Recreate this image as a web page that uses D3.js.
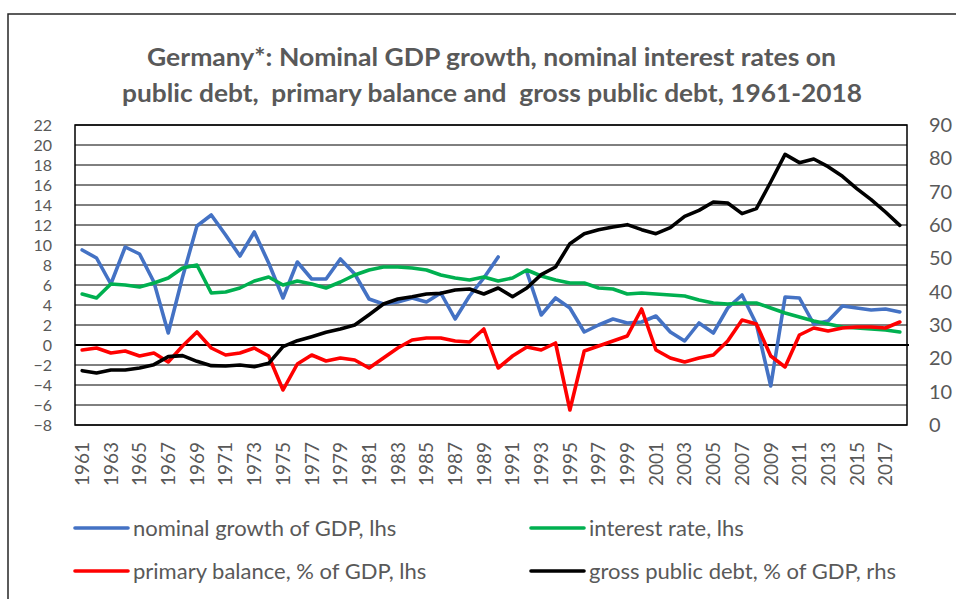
<!DOCTYPE html>
<html>
<head>
<meta charset="utf-8">
<script src="https://cdn.jsdelivr.net/npm/d3@7"></script>
<style>
  body { margin: 0; background: #fff; }
  svg { display: block; }
  text { font-family: Lato, "Open Sans", "Liberation Sans", sans-serif; fill: #595959; }
</style>
</head>
<body>
<svg id="chart" width="956" height="599"></svg>
<script>
const years = d3.range(1961, 2019);
const growth = [9.5, 8.7, 6.1, 9.8, 9.1, 6.3, 1.2, 6.8, 11.9, 13.0,
  11.0, 8.9, 11.3, 8.2, 4.7, 8.3, 6.6, 6.6, 8.6, 7.1,
  4.6, 4.1, 4.3, 4.7, 4.3, 5.2, 2.6, 4.9, 6.7, 8.8,
  null, 7.3, 3.0, 4.7, 3.7, 1.3, 2.0, 2.6, 2.2, 2.3,
  2.9, 1.3, 0.4, 2.2, 1.2, 3.7, 5.0, 2.1, -4.1, 4.8,
  4.7, 2.1, 2.4, 3.9, 3.7, 3.5, 3.6, 3.3];
const interest = [5.1, 4.7, 6.1, 6.0, 5.8, 6.2, 6.7, 7.7, 8.0, 5.2,
  5.3, 5.7, 6.4, 6.8, 6.0, 6.4, 6.1, 5.7, 6.3, 7.0,
  7.5, 7.8, 7.8, 7.7, 7.5, 7.0, 6.7, 6.5, 6.8, 6.4,
  6.7, 7.5, 6.9, 6.5, 6.2, 6.2, 5.7, 5.6, 5.1, 5.2,
  5.1, 5.0, 4.9, 4.5, 4.2, 4.1, 4.2, 4.2, 3.7, 3.2,
  2.8, 2.4, 2.1, 1.8, 1.7, 1.6, 1.5, 1.3];
const primary = [-0.5, -0.3, -0.8, -0.6, -1.1, -0.8, -1.7, -0.1, 1.3, -0.3,
  -1.0, -0.8, -0.3, -1.1, -4.5, -1.9, -1.0, -1.6, -1.3, -1.5,
  -2.3, -1.3, -0.3, 0.5, 0.7, 0.7, 0.4, 0.3, 1.6, -2.3,
  -1.1, -0.2, -0.5, 0.2, -6.5, -0.6, -0.1, 0.4, 0.9, 3.6,
  -0.5, -1.3, -1.7, -1.3, -1.0, 0.4, 2.5, 2.1, -1.1, -2.2,
  1.0, 1.7, 1.4, 1.7, 1.8, 1.8, 1.7, 2.3];
const debt = [16.3, 15.6, 16.5, 16.5, 17.1, 18.1, 20.5, 20.8, 19.1, 17.8,
  17.7, 18.0, 17.5, 18.5, 23.5, 25.3, 26.5, 27.8, 28.8, 30.0,
  33.1, 36.3, 37.8, 38.5, 39.3, 39.5, 40.5, 40.8, 39.3, 41.1,
  38.5, 41.1, 45.1, 47.4, 54.4, 57.4, 58.6, 59.4, 60.1, 58.6,
  57.4, 59.2, 62.6, 64.4, 66.9, 66.6, 63.4, 64.9, 72.9, 81.2,
  78.7, 79.8, 77.5, 74.6, 70.9, 67.6, 63.9, 59.9];
const leftTicks = d3.range(-8, 23, 2);
const rightTicks = d3.range(0, 91, 10);
const titleLines = ["Germany*: Nominal GDP growth, nominal interest rates on",
                    "public debt,  primary balance and  gross public debt, 1961-2018"];
const seriesNames = ["nominal growth of GDP, lhs", "interest rate, lhs",
                     "primary balance, % of GDP, lhs", "gross public debt, % of GDP, rhs"];
const seriesColors = ["#4472C4", "#00B050", "#FF0000", "#000000"];

const svg = d3.select("#chart");
const L = 75, R = 907, T = 125, B = 425;

// outer frame
svg.append("path").attr("d", `M8,599 V14 H956`).attr("fill", "none")
  .attr("stroke", "#262626").attr("stroke-width", 1.5);

// title
const titleX = [147, 122], titleY = [66, 102], titleW = [689, 740];
svg.selectAll("text.title").data(titleLines).join("text")
  .attr("class", "title")
  .attr("x", (d, i) => titleX[i]).attr("y", (d, i) => titleY[i])
  .attr("textLength", (d, i) => titleW[i]).attr("lengthAdjust", "spacingAndGlyphs")
  .style("white-space", "pre")
  .style("font-size", "24px").style("font-weight", "bold").text(d => d);

const x = d3.scaleBand().domain(years).range([L, R]);
const xc = d => x(d) + x.bandwidth() / 2;
const yL = d3.scaleLinear().domain([-8, 22]).range([B, T]);
const yR = d3.scaleLinear().domain([0, 90]).range([B, T]);

// gridlines
svg.append("g").selectAll("line").data(leftTicks).join("line")
  .attr("x1", L).attr("x2", R).attr("y1", d => yL(d)).attr("y2", d => yL(d))
  .attr("stroke", "#000").attr("stroke-width", 1);

// plot border
svg.append("rect").attr("x", L).attr("y", T).attr("width", R - L).attr("height", B - T)
  .attr("fill", "none").attr("stroke", "#000").attr("stroke-width", 1.5);

// zero line
svg.append("line").attr("x1", L).attr("x2", R + 2).attr("y1", yL(0)).attr("y2", yL(0))
  .attr("stroke", "#000").attr("stroke-width", 2.2);

// left axis
const axL = svg.append("g").attr("transform", `translate(${L},0)`)
  .call(d3.axisLeft(yL).tickValues(leftTicks).tickSize(0).tickPadding(23));
axL.select(".domain").remove();
axL.selectAll("text").style("font-size", "16px").style("font-family", "Lato, sans-serif").attr("fill", "#595959");

// right axis
const axR = svg.append("g").attr("transform", `translate(${R},0)`)
  .call(d3.axisRight(yR).tickValues(rightTicks).tickSize(0).tickPadding(22));
axR.select(".domain").remove();
axR.selectAll("text").style("font-size", "20px").style("font-family", "Lato, sans-serif").attr("fill", "#595959");

// x axis labels
const axB = svg.append("g").attr("transform", `translate(0,${B})`)
  .call(d3.axisBottom(x).tickValues(years.filter(y => (y - 1961) % 2 === 0)).tickSize(0).tickPadding(0));
axB.select(".domain").remove();
axB.selectAll("text")
  .style("font-size", "19px").style("font-family", "Lato, sans-serif").attr("fill", "#595959")
  .attr("text-anchor", "end")
  .attr("transform", "rotate(-90)")
  .attr("x", -17).attr("y", 0).attr("dy", "0.36em");

// lines
const lineL = d3.line().defined(d => d.v !== null).x(d => xc(d.year)).y(d => yL(d.v));
const lineR = d3.line().x(d => xc(d.year)).y(d => yR(d.v));
const toPts = arr => arr.map((v, i) => ({ year: years[i], v }));

const g = svg.append("g").attr("fill", "none").attr("stroke-width", 3.6)
  .attr("stroke-linejoin", "round").attr("stroke-linecap", "round");
g.append("path").attr("d", lineL(toPts(growth))).attr("stroke", seriesColors[0]);
g.append("path").attr("d", lineL(toPts(interest))).attr("stroke", seriesColors[1]);
g.append("path").attr("d", lineL(toPts(primary))).attr("stroke", seriesColors[2]);
g.append("path").attr("d", lineR(toPts(debt))).attr("stroke", seriesColors[3]);

// legend
const legX = [75, 531, 75, 531], legY = [528, 528, 571, 571];
const leg = svg.append("g").selectAll("g").data(seriesNames).join("g")
  .attr("transform", (d, i) => `translate(${legX[i]},${legY[i]})`);
leg.append("line").attr("x1", 0).attr("x2", 53).attr("y1", 0).attr("y2", 0)
  .attr("stroke", (d, i) => seriesColors[i]).attr("stroke-width", 3.6).attr("stroke-linecap", "round");
leg.append("text").attr("x", 58).attr("y", 0).attr("dy", "0.35em")
  .style("font-size", "22px").text(d => d);
</script>
</body>
</html>
